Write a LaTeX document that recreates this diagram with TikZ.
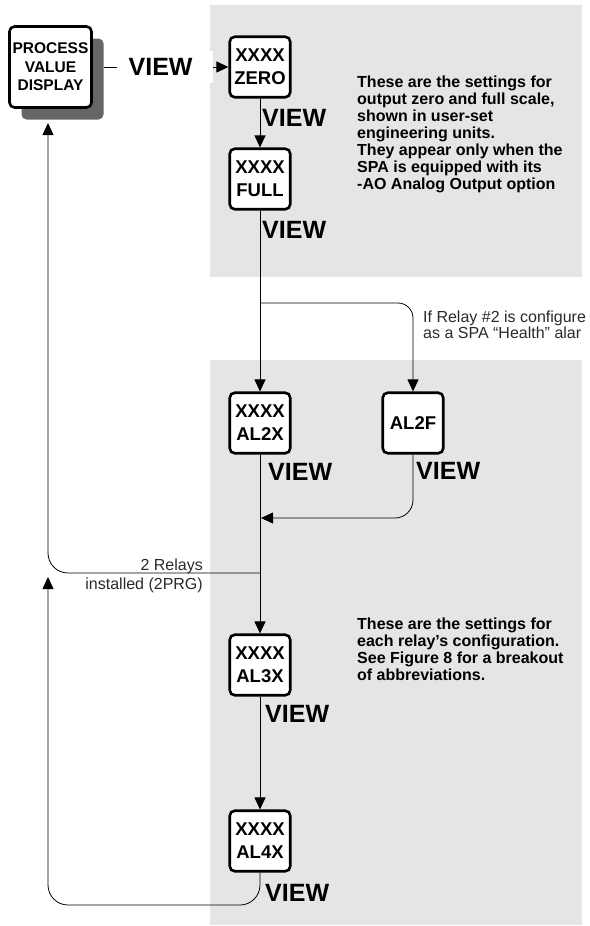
\documentclass[tikz,border=0pt]{standalone}
\usepackage{fontspec}
\setmainfont{Liberation Sans}
\usepackage{xcolor}
\usepackage{tikz}
\usetikzlibrary{positioning,calc,shadows}
\usetikzlibrary{arrows.meta}
\definecolor{panelGray}{HTML}{E5E5E5}
\definecolor{shadowGray}{HTML}{666666}
\definecolor{noteGray}{HTML}{2A2A2A}
\tikzstyle{dispBox}=[draw, line width=2.6pt, rounded corners=5pt, fill=white, minimum width=60.5pt, minimum height=60.5pt, inner sep=0pt, align=center, font=\bfseries\fontsize{18.5}{23}\selectfont]
\tikzstyle{procBox}=[dispBox, minimum width=82pt, minimum height=81pt, font=\bfseries\fontsize{15.5}{18.5}\selectfont, drop shadow={shadow xshift=12pt, shadow yshift=-12pt, fill=shadowGray, opacity=1}]
\tikzstyle{viewLbl}=[inner sep=0pt, font=\bfseries\fontsize{25}{30}\selectfont]
\tikzstyle{link}=[-{Triangle[length=12pt,width=11pt]}, line width=0.8pt]
\tikzstyle{boldNote}=[inner sep=0pt, align=left, font=\bfseries\fontsize{16}{17}\selectfont]
\tikzstyle{thinNote}=[inner sep=0pt, text=noteGray, font=\fontsize{16}{16}\selectfont]

\begin{document}
\begin{tikzpicture}[x=1pt, y=-1pt, on grid]
      \useasboundingbox (0,0) rectangle (589,926);
      % grey panels
      \fill[panelGray] (210,5) rectangle (582,277);
      \fill[panelGray] (210,360) rectangle (582,925);
      % displays
      \node[procBox] (proc) at (50.5,67) {PROCESS\\VALUE\\DISPLAY};
      \node[dispBox] (zero) at (260,67) {XXXX\\ZERO};
      \node[dispBox] (full) [below=112pt of zero] {XXXX\\FULL};
      \node[dispBox] (al2x) [below=244pt of full] {XXXX\\AL2X};
      \node[dispBox] (al2f) [right=153pt of al2x] {AL2F};
      \node[dispBox] (al3x) [below=242pt of al2x] {XXXX\\AL3X};
      \node[dispBox] (al4x) [below=176pt of al3x] {XXXX\\AL4X};
      \coordinate (split) at (260,303);
      \coordinate (merge) at (261,518);
      \coordinate (back2) at (260,573);
      \coordinate (procIn) at (48,123);
      \coordinate (loopCorner) at (48,905);
      \coordinate (back4) at (48,577);
      % connectors
      \draw[link, shorten <=11pt] (proc) -- node[viewLbl, anchor=center, fill=white, minimum width=96pt, minimum height=32pt, xshift=4.5pt] {\hspace*{-9pt}VIEW} (zero);
      \draw[link] (zero) -- (full);
      \draw[link] (full) -- (al2x);
      \draw[link, rounded corners=15pt] (split) -| (al2f);
      \draw[link, rounded corners=18pt] (al2f) |- (merge);
      \draw[link] (al2x) -- (al3x);
      \draw[link] (al3x) -- (al4x);
      \draw[link, rounded corners=20pt] (back2) -| (procIn);
      \draw[link, rounded corners=20pt] (al4x) |- (loopCorner) -- (back4);
      % key labels
      \node[viewLbl, anchor=west] (vZero) at ([shift={(2,19.5)}]zero.south) {VIEW};
      \node[viewLbl, anchor=west] (vFull) at ([shift={(2,19.5)}]full.south) {VIEW};
      \node[viewLbl, anchor=west] (vAl2x) at ([shift={(8,17.5)}]al2x.south) {VIEW};
      \node[viewLbl, anchor=west] (vAl2f) at ([shift={(3,16.5)}]al2f.south) {VIEW};
      \node[viewLbl, anchor=west] (vAl3x) at ([shift={(5,17.5)}]al3x.south) {VIEW};
      \node[viewLbl, anchor=west] (vAl4x) at ([shift={(5,20.5)}]al4x.south) {VIEW};
      % notes
      \node[boldNote, anchor=north west] (aoNote) at (357,76) {These are the settings for\\output zero and full scale,\\shown in user-set\\engineering units.\\They appear only when the\\SPA is equipped with its\\-AO Analog Output option};
      \node[boldNote, anchor=north west] (relNote) at (357,618) {These are the settings for\\each relay's configuration.\\See Figure 8 for a breakout\\of abbreviations.};
      \node[thinNote, anchor=north west, align=left] (healthNote) at (423,311) {If Relay \#2 is configure\\as a SPA ``Health'' alar};
      \node[thinNote, anchor=north east, align=right, font=\fontsize{16}{19}\selectfont] (prgNote) at (203,559) {2 Relays\\installed (2PRG)};
    \end{tikzpicture}
\end{document}
